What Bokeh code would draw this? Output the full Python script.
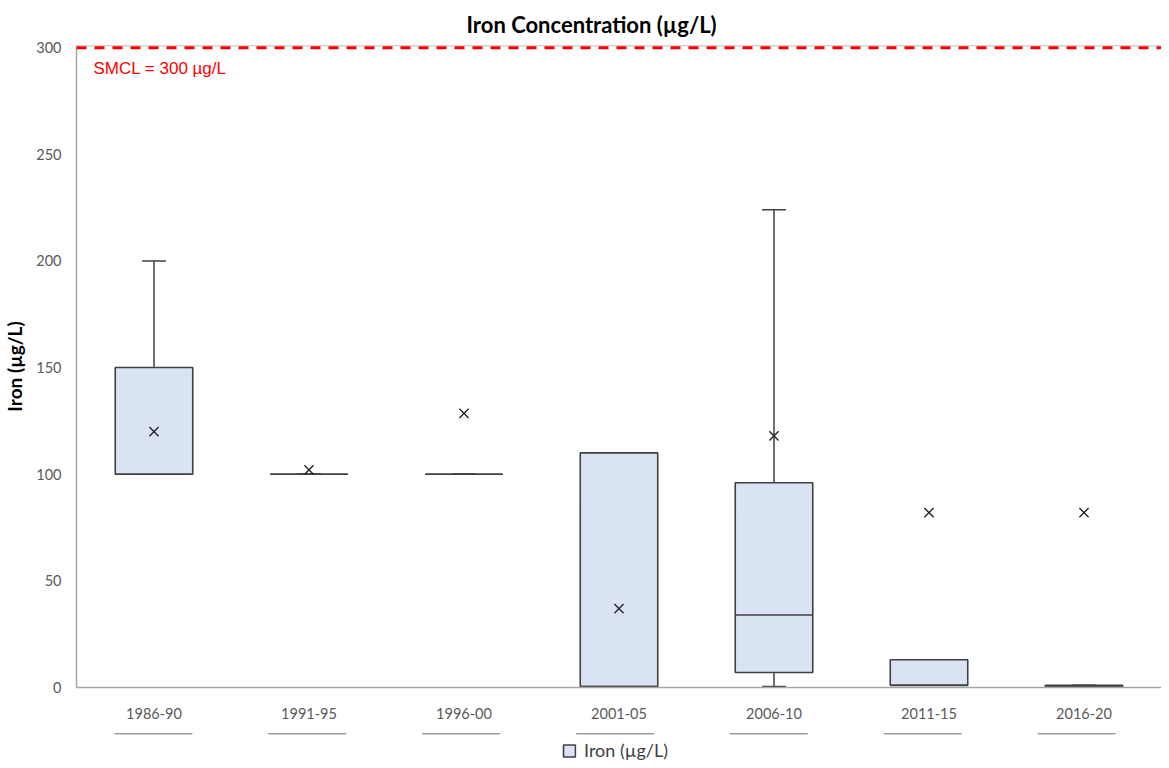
from bokeh.plotting import figure
from bokeh.layouts import column
from bokeh.models import ColumnDataSource, FactorRange, Range1d, Span, Label, Legend, LegendItem
from bokeh.transform import dodge
from bokeh.embed import file_html
from bokeh.resources import INLINE

categories = ["1986-90", "1991-95", "1996-00", "2001-05", "2006-10", "2011-15", "2016-20"]
q1 = [100, 100, 100, 0.5, 7, 1, 0.5]
median = [100, 100, 100, 0.5, 34, 1, 0.5]
q3 = [150, 100, 100, 110, 96, 13, 1]
whisker_low = [100, 100, 100, 0.5, 0.5, 1, 0.5]
whisker_high = [200, 100, 100, 110, 224, 13, 1]
mean = [120, 102, 128.5, 37, 118, 82, 82]
y_ticks = [0, 50, 100, 150, 200, 250, 300]
smcl = 300
series_name = "Iron (µg/L)"

FONT = "Lato"
BOX_FILL = "#DAE3F3"
edge = "#404040"
src = ColumnDataSource(dict(cat=categories, q1=q1, med=median, q3=q3,
                            lo=whisker_low, hi=whisker_high, mean=mean))

p = figure(x_range=FactorRange(*categories), y_range=Range1d(0, 301),
           frame_width=1085, frame_height=642,
           output_backend="svg", toolbar_location=None,
           min_border_left=68, min_border_right=0, min_border_top=39, min_border_bottom=46)
p.title.text = "Iron Concentration (µg/L)"
p.title.align = "left"
p.title.offset = 390
p.title.standoff = 16
p.title.text_font = FONT
p.title.text_font_size = "22px"
p.title.text_font_style = "bold"
p.title.text_color = "#000000"

p.xgrid.visible = False
p.ygrid.visible = False
p.outline_line_color = None

# whiskers
p.segment(x0="cat", y0="q3", x1="cat", y1="hi", source=src, line_color=edge, line_width=1.5)
p.segment(x0="cat", y0="q1", x1="cat", y1="lo", source=src, line_color=edge, line_width=1.5)
cap = 0.077
p.segment(x0=dodge("cat", -cap, range=p.x_range), y0="hi", x1=dodge("cat", cap, range=p.x_range), y1="hi",
          source=src, line_color=edge, line_width=1.5)
p.segment(x0=dodge("cat", -cap, range=p.x_range), y0="lo", x1=dodge("cat", cap, range=p.x_range), y1="lo",
          source=src, line_color=edge, line_width=1.5)
p.vbar(x="cat", bottom="q1", top="q3", width=0.5, source=src,
       fill_color=BOX_FILL, line_color=edge, line_width=1.6)
p.segment(x0=dodge("cat", -0.25, range=p.x_range), y0="med", x1=dodge("cat", 0.25, range=p.x_range), y1="med",
          source=src, line_color=edge, line_width=1.5)
p.scatter(x="cat", y="mean", source=src, marker="x", size=13, line_color="#262626", line_width=1.4)

p.add_layout(Span(location=y_ticks[-1] + 1, dimension="width", line_color="#a6a6a6", line_width=1.5))
p.add_layout(Span(location=smcl, dimension="width", line_color="#FF0000", line_width=3, line_dash="10 8"))
p.add_layout(Label(x=0, y=smcl, x_offset=17, y_offset=-11, text="SMCL = 300 µg/L",
                   text_color="#FF0000", text_font="Liberation Sans", text_font_size="17px",
                   text_baseline="top"))

p.yaxis.ticker = y_ticks
p.yaxis.axis_label = series_name
p.yaxis.axis_label_text_font = FONT
p.yaxis.axis_label_text_font_size = "19px"
p.yaxis.axis_label_text_font_style = "bold"
p.yaxis.axis_label_text_color = "#000000"
p.yaxis.axis_label_standoff = 7
for ax in (p.xaxis[0], p.yaxis[0]):
    ax.axis_line_color = "#a6a6a6"
    ax.axis_line_width = 1.5
    ax.major_tick_line_color = None
    ax.minor_tick_line_color = None
    ax.major_label_text_font = FONT
    ax.major_label_text_font_size = "14.5px"
    ax.major_label_text_color = "#595959"
p.yaxis.major_label_standoff = 9
p.xaxis.major_label_standoff = 14

# legend strip below the chart (its box glyphs lie outside its visible y range)
lf = figure(width=1153, height=34, x_range=p.x_range, y_range=Range1d(-2, -1),
            x_axis_location=None, y_axis_location=None,
            output_backend="svg", toolbar_location=None,
            min_border_left=22, min_border_right=0, min_border_top=0, min_border_bottom=0)
lf.outline_line_color = None
lf.xgrid.visible = False
lf.ygrid.visible = False
swatch = lf.vbar(x="cat", bottom="q1", top="q3", width=0.5, source=src,
                 fill_color=BOX_FILL, line_color=edge, line_width=1.6)
legend = Legend(items=[LegendItem(label=series_name, renderers=[swatch])],
                orientation="horizontal", location="center",
                label_text_font=FONT, label_text_font_size="18px", label_text_color="#404040",
                glyph_width=15, glyph_height=15, border_line_color=None, background_fill_alpha=0,
                padding=0, margin=0, label_standoff=8)
lf.add_layout(legend, "center")

layout = column(p, lf, spacing=0)
open("out.html", "w").write(file_html(layout, INLINE))
